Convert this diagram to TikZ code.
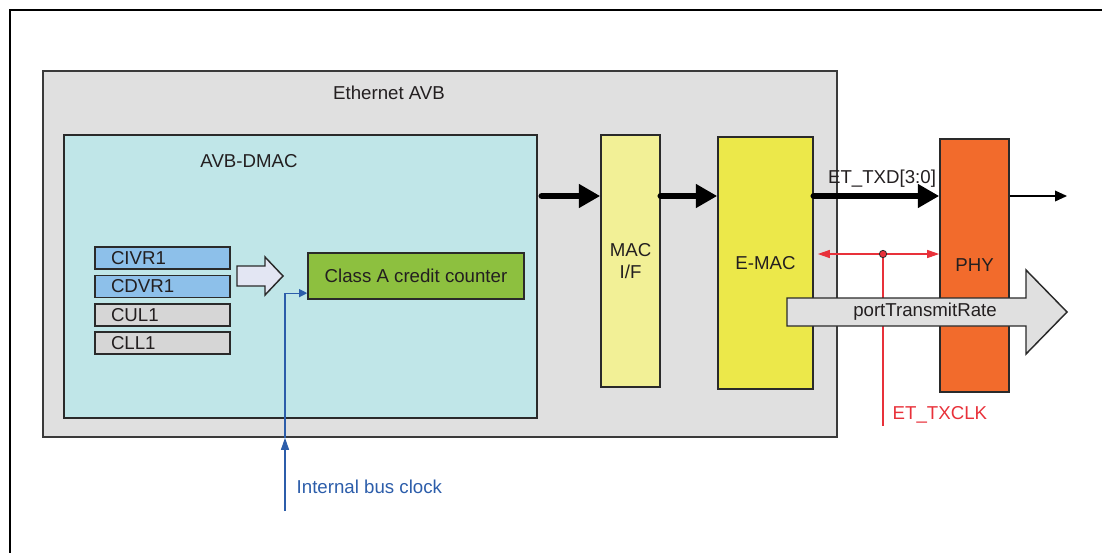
\documentclass[tikz,border=0pt]{standalone}
\usepackage{fontspec}
\setmainfont{Liberation Sans}
\usetikzlibrary{arrows.meta, positioning}

\definecolor{avbgray}{HTML}{E0E0E0}
\definecolor{edgegray}{HTML}{3A3A3A}
\definecolor{edgedark}{HTML}{2A2A2A}
\definecolor{txtdark}{HTML}{231F20}
\definecolor{dmaccyan}{HTML}{C0E6E8}
\definecolor{regblue}{HTML}{8DC0EA}
\definecolor{reggray}{HTML}{D6D6D6}
\definecolor{cntgreen}{HTML}{8DC03F}
\definecolor{macyellow}{HTML}{F2F096}
\definecolor{emacyellow}{HTML}{ECE84A}
\definecolor{phyorange}{HTML}{F26B2C}
\definecolor{hollowfill}{HTML}{E3E6F3}
\definecolor{clkred}{HTML}{E8313A}
\definecolor{clkblue}{HTML}{2C5DAA}

\begin{document}
\begin{tikzpicture}[
    x=0.75pt, y=-0.75pt,
    every node/.style={font=\fontsize{14}{16.5}\selectfont, text=txtdark},
    block/.style={rectangle, draw=edgedark, line width=1.2pt, inner sep=0pt},
    reg/.style={block, minimum width=101.25pt, minimum height=16.5pt, text width=77.25pt, align=left, inner xsep=12pt},
    bus/.style={line width=5pt, line cap=round, -{Triangle[length=16pt,width=17pt]}},
    hollow/.style={draw=edgedark, line width=1.1pt, line join=miter},
    redline/.style={draw=clkred, line width=0.8pt},
    blueline/.style={draw=clkblue, line width=0.8pt},
    dot/.style={circle, draw=edgedark, fill=clkred, line width=0.6pt, minimum size=5.5pt, inner sep=0pt}
]
    \useasboundingbox (0,0) rectangle (1102,553);
    \draw[line width=2.2pt] (1102,10) -| (10,553);

    % Ethernet AVB and DMAC
    \node[block, fill=avbgray, draw=edgegray, minimum width=595.5pt, minimum height=274.5pt] (avb) at (440,254) {};
    \node (avblbl) at (389,93) {Ethernet AVB};
    \node[block, fill=dmaccyan, minimum width=354.75pt, minimum height=212.25pt] (dmac) at (300.5,276.5) {};
    \node (dmaclbl) at (249,161) {AVB-DMAC};

    \node[reg, fill=regblue] (civr) at (162.5,258) {CIVR1};
    \node[reg, fill=regblue, below=3.6pt of civr] (cdvr) {CDVR1};
    \node[reg, fill=reggray, below=3.6pt of cdvr] (cul) {CUL1};
    \node[reg, fill=reggray, below=3.6pt of cul] (cll) {CLL1};

    \draw[hollow, fill=hollowfill] (237,266) -- (265,266) -- (265,257) -- (283,276)
        -- (265,295) -- (265,286) -- (237,286) -- cycle;

    \node[block, fill=cntgreen, minimum width=162pt, minimum height=34.5pt] (counter) at (416,276) {Class A credit counter};

    % MAC side
    \node[block, fill=macyellow, minimum width=44.25pt, minimum height=189pt, align=center] (macif) at (630.5,261) {MAC\\I/F};
    \node[block, fill=emacyellow, minimum width=71.25pt, minimum height=189pt] (emac) at (765.5,263) {E-MAC};
    \node[block, fill=phyorange, minimum width=51.75pt, minimum height=189.75pt] (phy) at (974.5,265.5) {PHY};

    \coordinate (txd) at (0,196);
    \coordinate (txout) at (1067,196);
    \draw[bus] ([xshift=3pt]dmac.east |- txd) -- (macif.west |- txd);
    \draw[bus] (macif.east |- txd) -- (emac.west |- txd);
    \draw[bus] (emac.east |- txd) -- (phy.west |- txd);
    \node (txdlbl) at (882,179) {ET\_TXD[3:0]};
    \draw[line width=1.1pt, -{Triangle[length=9pt,width=8pt]}] (phy.east |- txd) -- (txout);

    % ET_TXCLK
    \coordinate (clkc) at (883,254);
    \coordinate (clkend) at (883,426);
    \draw[redline] (clkc) -- (clkend);
    \draw[redline, {Triangle[length=9pt,width=6pt]}-{Triangle[length=9pt,width=6pt]}] ([xshift=3pt]emac.east |- clkc) -- (phy.west |- clkc);
    \node[dot] (clkdot) at (clkc) {};
    \node[text=clkred, anchor=west] (txclk) at (888,415) {ET\_TXCLK};

    % portTransmitRate
    \draw[hollow, fill=avbgray] (787,298) -- (1026,298) -- (1026,270) -- (1067,312)
        -- (1026,354) -- (1026,326) -- (787,326) -- cycle;
    \node (rate) at (925,312) {portTransmitRate};

    % Internal bus clock
    \coordinate (busclk) at (285,511);
    \draw[blueline, -{Triangle[length=9pt,width=6pt]}] (busclk) -- (busclk |- avb.south);
    \draw[blueline, -{Triangle[length=6pt,width=6pt]}] (busclk |- avb.south) |- ([yshift=5pt]counter.south west);
    \node[text=clkblue, anchor=west] (buslbl) at (292,487) {Internal bus clock};
\end{tikzpicture}
\end{document}
